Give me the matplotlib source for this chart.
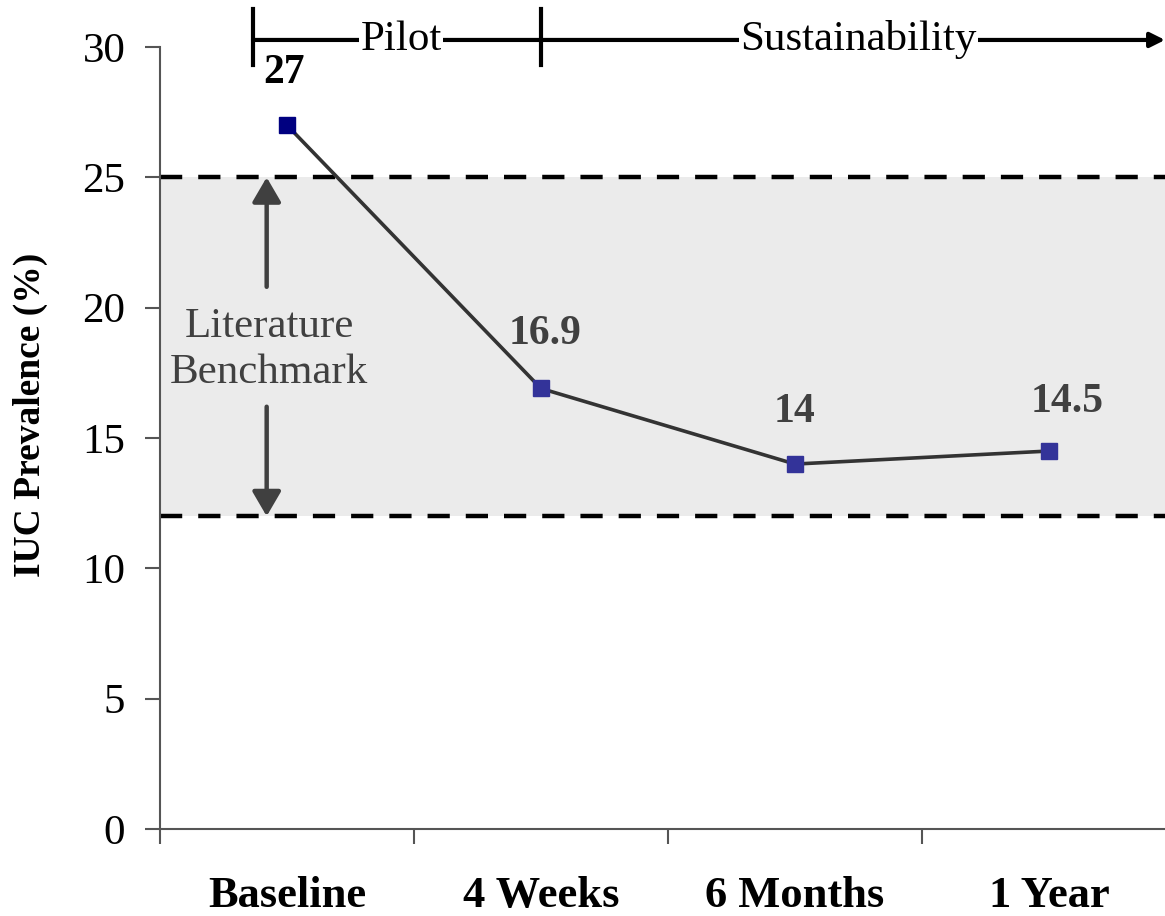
import matplotlib
matplotlib.use("Agg")
import matplotlib.pyplot as plt
from matplotlib.ticker import FixedLocator

plt.rcParams['font.family'] = ['Liberation Serif', 'DejaVu Serif']

categories = ["Baseline", "4 Weeks", "6 Months", "1 Year"]
values = [27, 16.9, 14, 14.5]
value_labels = ["27", "16.9", "14", "14.5"]
bench_low, bench_high = 12, 25
yticks = [0, 5, 10, 15, 20, 25, 30]

fig = plt.figure(figsize=(11.65, 9.16), dpi=100)
ax = fig.add_axes([160/1165, 87/916, 1 - 160/1165, (829-47)/916])

x = list(range(len(categories)))
ax.set_xlim(-0.5, 3.457)
ax.set_ylim(0, 30)

# benchmark band
ax.axhspan(bench_low, bench_high, color='#EBEBEB', zorder=0, lw=0)
for yb in (bench_low, bench_high):
    ax.axhline(yb, color='black', lw=3.2, ls=(0, (5, 3.6)), zorder=1)

# line & markers
ax.plot(x, values, color='#333333', lw=2.6, zorder=3)
mcolors = ['#000080', '#333399', '#333399', '#333399']
for xi, v, c in zip(x, values, mcolors):
    ax.plot([xi], [v], marker='s', ms=12, color=c, mec=c, zorder=4, ls='none')

# value labels
lab_col = ['black', '#404040', '#404040', '#404040']
offs = [2.0, 2.1, 2.0, 1.9]
dx = [-0.01, 0.015, 0.0, 0.07]
for xi, v, t, c, o, d in zip(x, values, value_labels, lab_col, offs, dx):
    ax.text(xi + d, v + o, t, ha='center', va='center', fontsize=30,
            fontweight='bold', color=c, zorder=5, clip_on=False)

# Literature benchmark text and arrows
ax_x = -0.08
ax.text(ax_x + 0.01, 18.4, "Literature\nBenchmark", ha='center', va='center',
        fontsize=31, color='#404040', linespacing=1.25, zorder=5)
ax.annotate('', xy=(ax_x, bench_high), xytext=(ax_x, 20.8),
            arrowprops=dict(arrowstyle='-|>,head_length=0.6,head_width=0.35',
                            color='#404040', lw=3.2,
                            mutation_scale=25, shrinkA=0, shrinkB=0), zorder=5)
ax.annotate('', xy=(ax_x, bench_low), xytext=(ax_x, 16.2),
            arrowprops=dict(arrowstyle='-|>,head_length=0.6,head_width=0.35',
                            color='#404040', lw=3.2,
                            mutation_scale=25, shrinkA=0, shrinkB=0), zorder=5)

# phase bracket at the top
yb = 30.27
ax.plot([-0.134, -0.134], [29.3, 31.45], color='black', lw=3, clip_on=False)
ax.plot([1.0, 1.0], [29.3, 31.45], color='black', lw=3, clip_on=False)
ax.annotate('', xy=(3.457, yb), xytext=(-0.134, yb), xycoords='data',
            arrowprops=dict(arrowstyle='-|>', color='black', lw=3,
                            mutation_scale=22, shrinkA=0, shrinkB=0),
            annotation_clip=False)
ax.text(0.45, yb, "Pilot", ha='center', va='center', fontsize=31,
        color='black', bbox=dict(facecolor='white', edgecolor='none', pad=1),
        clip_on=False, zorder=6)
ax.text(2.25, yb, "Sustainability", ha='center', va='center', fontsize=31,
        color='black', bbox=dict(facecolor='white', edgecolor='none', pad=1),
        clip_on=False, zorder=6)

# axes styling
for s in ('top', 'right'):
    ax.spines[s].set_visible(False)
ax.spines['left'].set_color('#555555')
ax.spines['bottom'].set_color('#555555')
ax.spines['left'].set_linewidth(1.5)
ax.spines['bottom'].set_linewidth(1.5)

ax.set_yticks(yticks)
ax.set_yticklabels([str(t) for t in yticks], fontsize=31)
ax.tick_params(axis='y', length=11, width=1.5, color='#555555', pad=14)

ax.set_xticks(x)
ax.set_xticklabels(categories, fontsize=32, fontweight='bold')
ax.tick_params(axis='x', which='major', length=0, pad=34)
ax.xaxis.set_minor_locator(FixedLocator([-0.5, 0.5, 1.5, 2.5]))
ax.tick_params(axis='x', which='minor', length=11, width=1.5, color='#555555')

fig.text(30/1165, 1 - 415/916, "IUC Prevalence (%)", rotation=90,
         ha='center', va='center', fontsize=27, fontweight='bold')

fig.savefig("out.png", dpi=100)
